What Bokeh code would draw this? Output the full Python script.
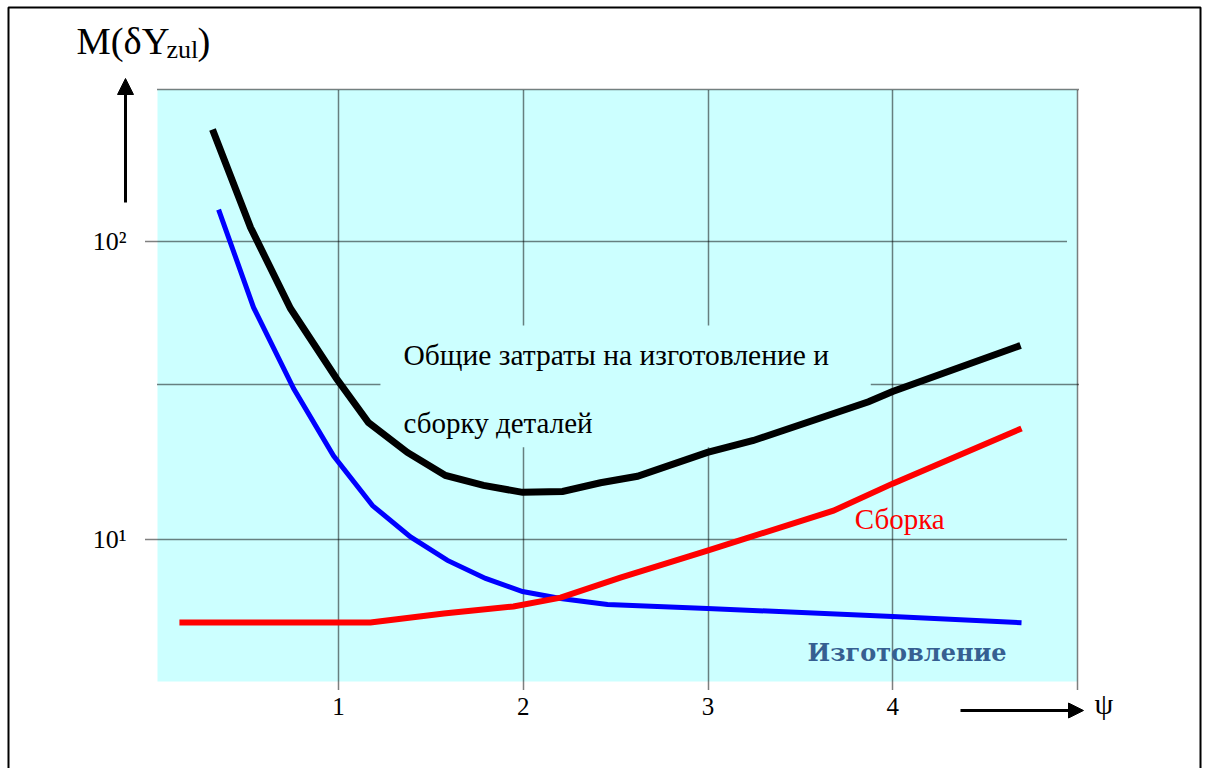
from bokeh.plotting import figure
from bokeh.models import (FixedTicker, BoxAnnotation, Label, Arrow, NormalHead,
                          Range1d, LinearAxis, LogAxis, Grid)
from bokeh.embed import file_html
from bokeh.resources import INLINE

# ---- data (x = psi, y = M(dY_zul), log scale) ----
total_x = [0.318, 0.524, 0.740, 0.989, 1.162, 1.373, 1.579, 1.785, 1.996, 2.213,
           2.418, 2.618, 2.997, 3.246, 3.869, 3.999, 4.692]
total_y = [237.7, 111.4, 59.6, 34.7, 24.7, 19.6, 16.4, 15.2, 14.4, 14.5,
           15.5, 16.3, 19.6, 21.5, 29.0, 31.4, 44.8]

manuf_x = [0.351, 0.540, 0.757, 0.973, 1.184, 1.390, 1.590, 1.796, 1.996, 2.202,
           2.456, 2.997, 3.999, 4.697]
manuf_y = [128.0, 60.1, 32.1, 19.1, 13.0, 10.2, 8.51, 7.40, 6.69, 6.34,
           6.05, 5.87, 5.52, 5.26]

assembly_x = [0.139, 1.173, 1.570, 1.947, 2.202, 2.526, 2.997, 3.679, 3.999, 4.697]
assembly_y = [5.27, 5.27, 5.65, 5.96, 6.38, 7.45, 9.18, 12.5, 15.4, 23.6]

x_ticks = [1, 2, 3, 4]
x_labels = ["1", "2", "3", "4"]
y_ticks = [10, 100]
y_labels = ["10\u00b9", "10\u00b2"]
x_grid_lines = [1, 2, 3, 4, 5]
y_grid_main = [10, 100]
y_grid_extra = [33.1, 323.6]

SERIF = "Liberation Serif"

# the frame fills the whole canvas; axes are drawn at fixed locations
X0, X1 = -0.8295, 5.6874
Y0, Y1 = 1.7044, 643.9
AREA_L, AREA_R, AREA_B, AREA_T = 0.0203, 4.9986, 3.339, 323.6   # cyan plot area
AXIS_X, AXIS_Y = -0.0447, 3.066                                   # axis positions

p = figure(width=1204, height=768, min_border=0,
           x_range=Range1d(X0, X1), y_range=Range1d(Y0, Y1),
           y_axis_type="log", x_axis_location=None, y_axis_location=None,
           output_backend="svg", toolbar_location=None)
p.title.visible = False
p.outline_line_color = None
p.background_fill_color = "white"
p.border_fill_color = "white"
for g in p.grid:
    g.visible = False

# axes
xaxis = LinearAxis(ticker=FixedTicker(ticks=x_ticks), fixed_location=AXIS_Y,
                   major_label_overrides=dict(zip(x_ticks, x_labels)))
yaxis = LogAxis(ticker=FixedTicker(ticks=y_ticks), fixed_location=AXIS_X,
                major_label_overrides=dict(zip(y_ticks, y_labels)))
for ax in (xaxis, yaxis):
    ax.axis_line_color = None
    ax.major_tick_line_color = None
    ax.minor_tick_line_color = None
    ax.major_tick_out = 0
    ax.major_tick_in = 0
    ax.major_label_text_font = SERIF
    ax.major_label_text_color = "black"
xaxis.major_label_text_font_size = "25px"
xaxis.major_label_standoff = 5
yaxis.major_label_text_font_size = "26px"
yaxis.major_label_standoff = 19
p.add_layout(xaxis, "below")
p.add_layout(yaxis, "left")

# grid lines (dotted)
def grid(dim, ticks, bounds):
    g = Grid(dimension=dim, ticker=FixedTicker(ticks=ticks), cross_bounds=bounds,
             grid_line_color="black", grid_line_dash="1 1", grid_line_width=1.5,
             grid_line_alpha=1.0)
    p.add_layout(g)

# cyan plot area (below the grid)
p.add_layout(BoxAnnotation(left=AREA_L, right=AREA_R, bottom=AREA_B, top=AREA_T,
                           fill_color="#CCFFFF", fill_alpha=1.0, line_color=None,
                           level="image"))
grid(0, x_grid_lines, (3.138, AREA_T))
grid(1, y_grid_main, (AXIS_X, 4.9465))
grid(1, y_grid_extra, (AREA_L, 5.0108))

# text box background covering the grid
p.add_layout(BoxAnnotation(left=1.227, right=3.881, bottom=20.4, top=52.3,
                           fill_color="#CCFFFF", fill_alpha=1.0, line_color=None,
                           level="underlay"))

# page frame
p.add_layout(BoxAnnotation(left=-0.7862, right=5.6658, bottom=1.331, top=609.9,
                           fill_color=None, fill_alpha=0, line_color="black",
                           line_alpha=1.0, line_width=2))

# curves
p.line(total_x, total_y, line_color="black", line_width=7, line_join="miter")
p.line(manuf_x, manuf_y, line_color="#0000FF", line_width=5, line_join="miter")
p.line(assembly_x, assembly_y, line_color="#FF0000", line_width=6, line_join="miter")

# texts
def lab(x, y, t, size, color="black", font=SERIF, style="normal"):
    p.add_layout(Label(x=x, y=y, text=t, text_font=font, text_font_size=size,
                       text_color=color, text_baseline="alphabetic",
                       text_align="left", text_font_style=style))

lab(1.3518, 41.67, "Общие затраты на изготовление и", "29.5px")
lab(1.3518, 24.62, "сборку деталей", "29px")
lab(3.7943, 11.73, "Сборка", "29px", color="#FF0000")
lab(3.5386, 4.174, "Изготовление", "24px", color="#365F91",
    font="DejaVu Serif", style="bold")
lab(-0.4182, 471.6, "M(δY", "38.5px")
lab(0.0690, 439.5, "zul", "26px")
lab(0.2368, 471.6, ")", "38.5px")
lab(5.092, 2.814, "ψ", "30px")

# axis arrows
p.add_layout(Arrow(end=NormalHead(size=16, fill_color="black", line_color="black"),
                   x_start=-0.1529, y_start=135.2, x_end=-0.1529, y_end=352.4,
                   line_width=3, line_color="black"))
p.add_layout(Arrow(end=NormalHead(size=15, fill_color="black", line_color="black"),
                   x_start=4.3667, y_start=2.668, x_end=5.0325, y_end=2.668,
                   line_width=3, line_color="black"))

open("out.html", "w").write(file_html(p, INLINE))
